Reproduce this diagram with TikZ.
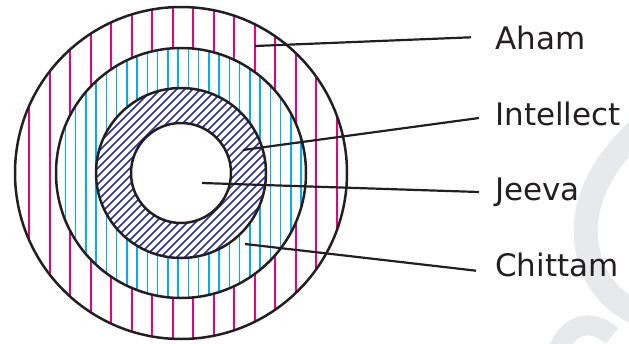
\documentclass[tikz,border=0pt]{standalone}
\usepackage{fontspec}
\setmainfont{DejaVu Sans}
\definecolor{ahampink}{RGB}{230,0,126}
\definecolor{chittamblue}{RGB}{0,174,239}
\definecolor{intellectnavy}{RGB}{46,49,146}
\definecolor{inkblack}{RGB}{35,31,32}
\definecolor{markgray}{RGB}{232,233,235}

\begin{document}
\begin{tikzpicture}[
        x = 1pt, y = -1pt,
        ring/.style = {draw = inkblack, line width = 2.5pt},
        pinkrule/.style = {draw = ahampink, line width = 1.7pt},
        bluerule/.style = {draw = chittamblue, line width = 1.6pt},
        hatchrule/.style = {draw = intellectnavy, line width = 1.5pt},
        leader/.style = {draw = inkblack, line width = 2.2pt},
        layer/.style = {font = \fontsize{31}{36}\selectfont, text = inkblack, inner sep = 0pt,
                        anchor = base west, text height = 16pt, text depth = 0pt}
    ]

        \useasboundingbox (0,0) rectangle (629,343);

        % faint watermark stroke
        \draw[markgray, line width = 24pt] (642,126) .. controls (602,163) and (578,205) .. (588,252)
            .. controls (594,282) and (612,300) .. (634,312);
        \draw[markgray, line width = 20pt] (558,352) .. controls (566,326) and (590,316) .. (612,336);

        \coordinate (core) at (181,173);

        % Aham ring
        \begin{scope}
            \clip (core) circle [radius = 166pt];
            \foreach \k in {-1,...,17}
                \draw[pinkrule] ({29.3 + 20.5*\k}, 0) -- ++(0, 343);
        \end{scope}

        % Chittam ring
        \fill[white] (core) circle [radius = 125pt];
        \begin{scope}
            \clip (core) circle [radius = 125pt];
            \foreach \k in {-1,...,25}
                \draw[bluerule] ({65.3 + 10.25*\k}, 0) -- ++(0, 343);
        \end{scope}

        % Intellect ring
        \fill[white] (core) circle [radius = 85pt];
        \begin{scope}
            \clip (core) circle [radius = 85pt];
            \foreach \s in {226, 234, ..., 490}
                \draw[hatchrule] (\s, 0) -- ++(-343, 343);
        \end{scope}

        % Jeeva
        \fill[white] (core) circle [radius = 50pt];

        \foreach \r in {166pt, 125pt, 85pt, 50pt}
            \draw[ring] (core) circle [radius = \r];


        \node[layer] (aham) at (495, 49.3) {Aham};
        \node[layer] (intellect) at (495, 125) {Intellect};
        \node[layer] (jeeva) at (495, 200) {Jeeva};
        \node[layer] (chittam) at (495, 276) {Chittam};

        \coordinate (in-aham) at (255, 46);
        \coordinate (in-intellect) at (243, 150);
        \coordinate (in-jeeva) at (202, 183);
        \coordinate (in-chittam) at (245, 244);


        \path[leader]
            (in-aham) edge ([xshift = -24pt, yshift = 4pt] aham.west)
            (in-intellect) edge ([xshift = -16pt, yshift = -1pt] intellect.west)
            (in-jeeva) edge ([xshift = -16pt] jeeva.west)
            (in-chittam) edge ([xshift = -19pt, yshift = -2.7pt] chittam.west);


    \end{tikzpicture}
\end{document}
